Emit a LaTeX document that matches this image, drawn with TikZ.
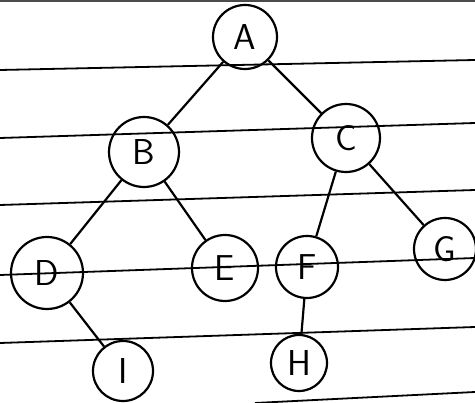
\documentclass[tikz,border=0pt]{standalone}
\usepackage{tikz}

\begin{document}
\begin{tikzpicture}[x=1pt,y=-1pt,
    vert/.style={circle,draw,line width=2.2pt,inner sep=0pt,
      font=\sffamily\fontsize{36}{36}\selectfont},
    rule/.style={line width=1.8pt}]
  \useasboundingbox (0,0) rectangle (475,403);
  % ruled paper
  \draw[line width=2.5pt,black!70] (0,1) -- (475,1);
  \foreach \l/\r in {70/60,138/123,205/190,275/258,343/327}
    \draw[rule] (0,\l) -- (475,\r);
  \draw[rule] (255,403) -- (475,392);
  % vertices
  \foreach \n/\x/\y/\d in {A/245/37/64,B/144/152/70,C/346/138/68,D/47/273/72,
                           E/225/268/66,F/307/267/62,G/445/249/62,I/123/371/60,H/299/363/56}
    \node[vert,minimum size=\d pt] (\n) at (\x,\y) {\n};
  % edges
  \foreach \a/\b in {A/B,A/C,B/D,B/E,C/F,C/G,D/I,F/H}
    \draw[line width=2.2pt] (\a) -- (\b);
\end{tikzpicture}
\end{document}
